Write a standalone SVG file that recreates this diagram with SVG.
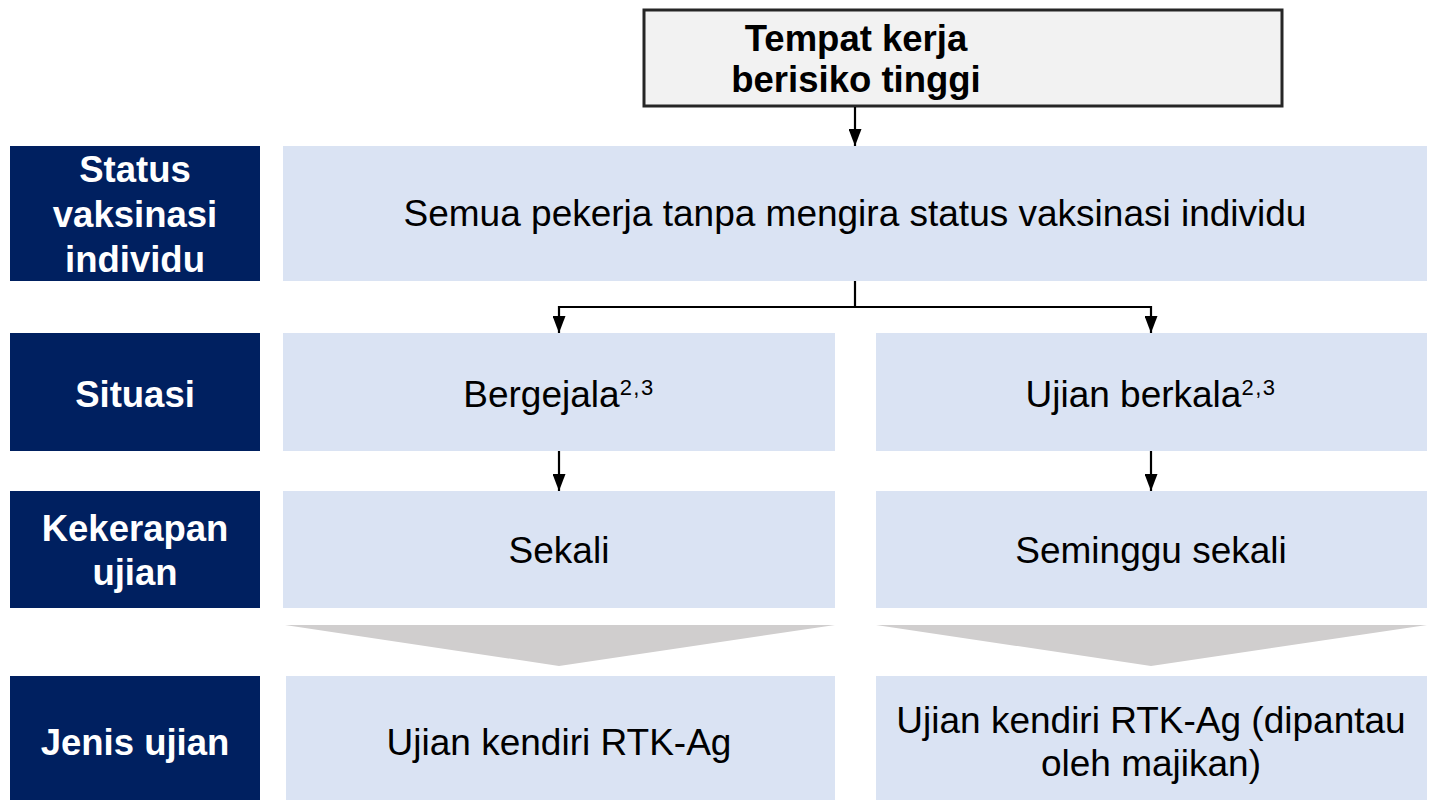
<svg xmlns="http://www.w3.org/2000/svg" width="1432" height="800" viewBox="0 0 1432 800">
<defs>
<style>
.lab{fill:#002060}
.box{fill:#dae3f3}
.chev{fill:#d0cece}
.lt{font-family:"Liberation Sans",Arial,sans-serif;font-weight:bold;font-size:36.5px;fill:#ffffff;text-anchor:middle}
.bt{font-family:"Liberation Sans",Arial,sans-serif;font-size:37px;fill:#000000;text-anchor:middle}
.tt{font-family:"Liberation Sans",Arial,sans-serif;font-weight:bold;font-size:36.5px;fill:#000000;text-anchor:middle}
.sup{font-size:22px;letter-spacing:1.5px}
.con{stroke:#000000;stroke-width:2.2;fill:none}
</style>
<marker id="ah" viewBox="0 0 17 13" refX="17" refY="6.5" markerWidth="17" markerHeight="13" markerUnits="userSpaceOnUse" orient="auto">
<path d="M0,0 L17,6.5 L0,13 z" fill="#000000"/>
</marker>
</defs>
<rect width="1432" height="800" fill="#ffffff"/>

<g id="top">
<rect x="644" y="10" width="638" height="96" fill="#f2f2f2" stroke="#262626" stroke-width="3"/>
<text class="tt" x="856" y="51">Tempat kerja</text>
<text class="tt" x="856" y="92">berisiko tinggi</text>
</g>

<g id="label-status">
<rect class="lab" x="10" y="146" width="250" height="135"/>
<text class="lt" x="135" y="182">Status</text>
<text class="lt" x="135" y="227">vaksinasi</text>
<text class="lt" x="135" y="272">individu</text>
</g>
<g id="label-situasi">
<rect class="lab" x="10" y="333" width="250" height="118"/>
<text class="lt" x="135" y="407">Situasi</text>
</g>
<g id="label-kekerapan">
<rect class="lab" x="10" y="491" width="250" height="117"/>
<text class="lt" x="135" y="541">Kekerapan</text>
<text class="lt" x="135" y="585">ujian</text>
</g>
<g id="label-jenis">
<rect class="lab" x="10" y="676" width="250" height="124"/>
<text class="lt" x="135" y="755">Jenis ujian</text>
</g>

<g id="semua">
<rect class="box" x="283" y="146" width="1144" height="135"/>
<text class="bt" x="855" y="226">Semua pekerja tanpa mengira status vaksinasi individu</text>
</g>
<g id="bergejala">
<rect class="box" x="283" y="333" width="552" height="118"/>
<text class="bt" x="559" y="407">Bergejala<tspan class="sup" dy="-12">2,3</tspan></text>
</g>
<g id="berkala">
<rect class="box" x="876" y="333" width="551" height="118"/>
<text class="bt" x="1151" y="407">Ujian berkala<tspan class="sup" dy="-12">2,3</tspan></text>
</g>
<g id="sekali">
<rect class="box" x="283" y="491" width="552" height="117"/>
<text class="bt" x="559" y="563">Sekali</text>
</g>
<g id="seminggu">
<rect class="box" x="876" y="491" width="551" height="117"/>
<text class="bt" x="1151" y="563">Seminggu sekali</text>
</g>
<g id="chevron-left">
<polygon class="chev" points="285,625 835,625 559,666"/>
</g>
<g id="chevron-right">
<polygon class="chev" points="876,625 1427,625 1151,666"/>
</g>
<g id="jenis-left">
<rect class="box" x="286" y="676" width="549" height="124"/>
<text class="bt" x="559" y="755">Ujian kendiri RTK-Ag</text>
</g>
<g id="jenis-right">
<rect class="box" x="876" y="676" width="551" height="124"/>
<text class="bt" x="1151" y="733">Ujian kendiri RTK-Ag (dipantau</text>
<text class="bt" x="1151" y="776">oleh majikan)</text>
</g>

<g id="connectors">
<path class="con" d="M855,107 L855,146" marker-end="url(#ah)"/>
<path class="con" d="M855,281 L855,307"/>
<path class="con" d="M855,307 L559,307 L559,333" marker-end="url(#ah)"/>
<path class="con" d="M855,307 L1151,307 L1151,333" marker-end="url(#ah)"/>
<path class="con" d="M559,451 L559,491" marker-end="url(#ah)"/>
<path class="con" d="M1151,451 L1151,491" marker-end="url(#ah)"/>
</g>
</svg>
